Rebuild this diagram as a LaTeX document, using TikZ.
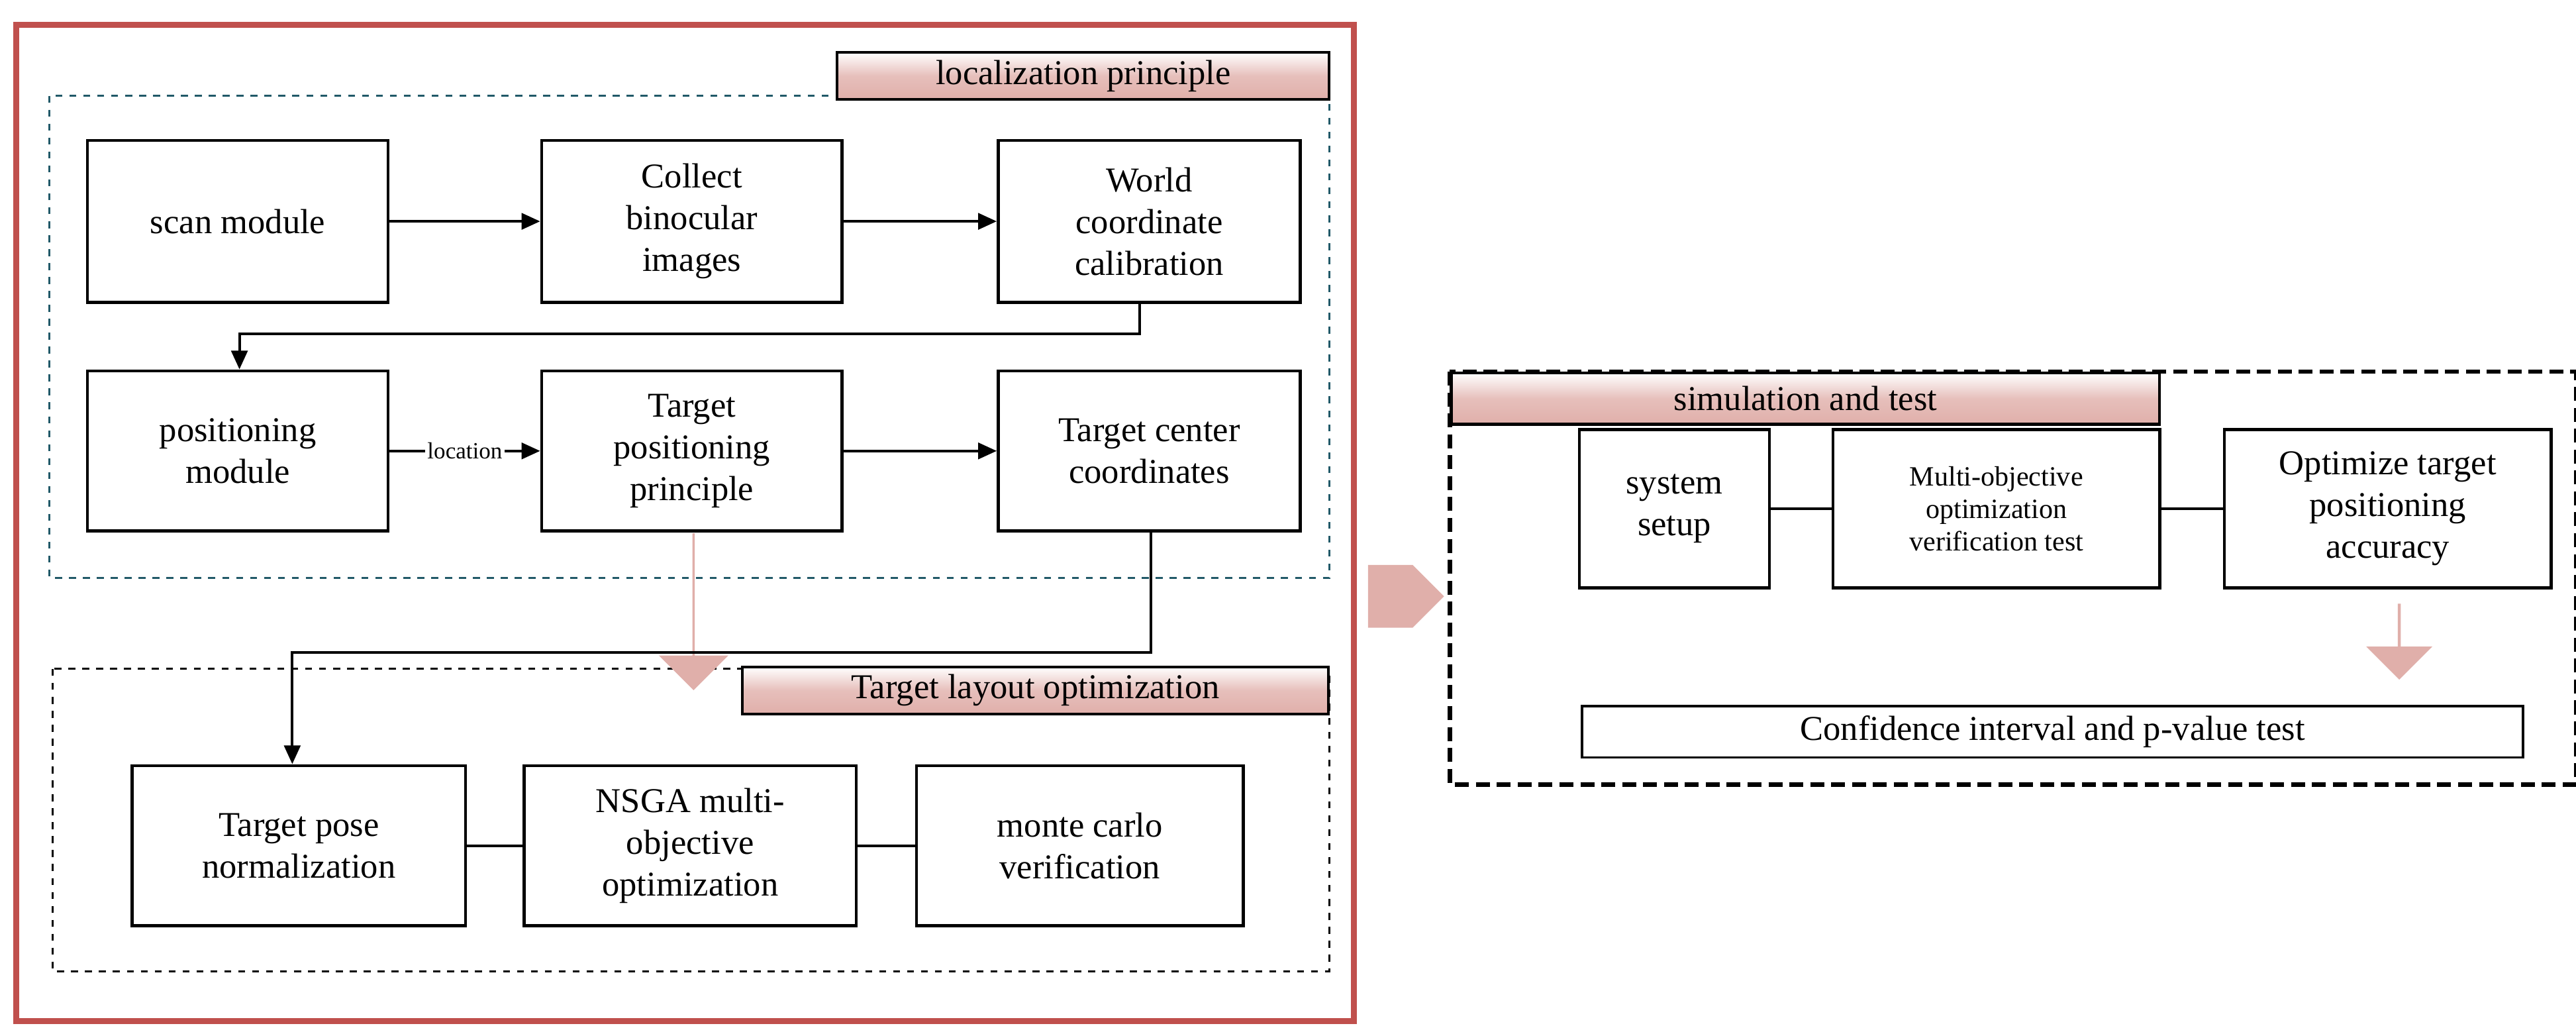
\documentclass[tikz,border=0pt]{standalone}
\usepackage{fontspec}
\setmainfont{Liberation Serif}
\usetikzlibrary{arrows.meta,shapes.arrows}
\definecolor{pk}{HTML}{E0AFAA}
\definecolor{rd}{HTML}{C0504D}
\definecolor{bl}{HTML}{215968}
\begin{document}
\begin{tikzpicture}[x=0.025cm,y=-0.025cm,
 box/.style={draw,line width=1.3pt,align=center,font=\fontsize{15}{18}\selectfont},
 hdr/.style={draw,line width=1.2pt,top color=white,bottom color=pk,middle color=pk!80,font=\fontsize{15}{18}\selectfont},
 ar/.style={-{Triangle[length=8pt,width=7pt]},line width=1.1pt},
 ln/.style={line width=1.1pt},
 big/.style={single arrow,draw=none,fill=pk,minimum height=0.9cm,single arrow head extend=0.2cm,minimum width=1.1cm,inner sep=0pt}]
\useasboundingbox (0,0) rectangle (1560,626);
% outer red
\draw[rd,line width=2.6pt] (10,15) rectangle (820,618);
\draw[bl,dashed,line width=0.9pt] (30,58) rectangle (805,350);
\node[hdr,minimum width=298*0.025cm,minimum height=27*0.025cm] (h1) at (656,46) {localization principle};
% row1
\node[box,minimum width=182*0.025cm,minimum height=98*0.025cm] (a1) at (144,134) {scan module};
\node[box,minimum width=182*0.025cm,minimum height=98*0.025cm] (a2) at (419,134) {Collect\\binocular\\images};
\node[box,minimum width=183*0.025cm,minimum height=98*0.025cm] (a3) at (696,134) {World\\coordinate\\calibration};
% row2
\node[box,minimum width=182*0.025cm,minimum height=97*0.025cm] (b1) at (144,273) {positioning\\module};
\node[box,minimum width=182*0.025cm,minimum height=97*0.025cm] (b2) at (419,273) {Target\\positioning\\principle};
\node[box,minimum width=183*0.025cm,minimum height=97*0.025cm] (b3) at (696,273) {Target center\\coordinates};
\draw[ar] (a1) -- (a2);
\draw[ar] (a2) -- (a3);
\coordinate (c1) at (690,202); \coordinate (c2) at (145,202);
\draw[ar] (a3.south -| c1) -- (c1) -- (c2) -- (b1.north -| c2);
\draw[ar] (b1) -- node[fill=white,inner sep=1pt,font=\fontsize{10}{12}\selectfont]{location} (b2);
\draw[ar] (b2) -- (b3);
% lower box
\draw[dashed,line width=0.9pt] (32,405) rectangle (805,588);
\node[big,shape border rotate=270,minimum height=95*0.025cm,minimum width=42*0.025cm,single arrow head extend=8*0.025cm] (d1) at (420,370) {};
\node[hdr,minimum width=355*0.025cm,minimum height=28*0.025cm] (h2) at (627,418) {Target layout optimization};
\node[box,minimum width=202*0.025cm,minimum height=97*0.025cm] (e1) at (181,512) {Target pose\\normalization};
\node[box,minimum width=201*0.025cm,minimum height=97*0.025cm] (e2) at (418,512) {NSGA multi-\\objective\\optimization};
\node[box,minimum width=198*0.025cm,minimum height=97*0.025cm] (e3) at (654,512) {monte carlo\\verification};
\coordinate (f1) at (697,395); \coordinate (f2) at (177,395);
\draw[ar] (b3.south -| f1) -- (f1) -- (f2) -- (e1.north -| f2);
\draw[ln] (e1) -- (e2); \draw[ln] (e2) -- (e3);
% right arrow
\node[big,minimum height=46*0.025cm,minimum width=38*0.025cm,single arrow head extend=0*0.025cm] (ra) at (842,361) {};
% right box
\draw[dashed,line width=1.8pt,dash pattern=on 6pt off 3pt] (878,225) rectangle (1560,475);
\node[hdr,anchor=north west,minimum width=429*0.025cm,minimum height=31*0.025cm] (h3) at (878,225) {simulation and test};
\node[box,minimum width=115*0.025cm,minimum height=96*0.025cm] (g1) at (1014,308) {system\\setup};
\node[box,minimum width=198*0.025cm,minimum height=96*0.025cm,font=\fontsize{12}{14}\selectfont] (g2) at (1209,308) {Multi-objective\\optimization\\verification test};
\node[box,minimum width=198*0.025cm,minimum height=96*0.025cm] (g3) at (1446,308) {Optimize target\\positioning\\accuracy};
\draw[ln] (g1) -- (g2); \draw[ln] (g2) -- (g3);
\node[big,shape border rotate=270,minimum height=46*0.025cm,minimum width=40*0.025cm,single arrow head extend=6*0.025cm] (d2) at (1453,388) {};
\node[box,line width=1pt,minimum width=570*0.025cm,minimum height=31*0.025cm,inner sep=0pt] (k) at (1243,443) {Confidence interval and p-value test};
\end{tikzpicture}
\end{document}
